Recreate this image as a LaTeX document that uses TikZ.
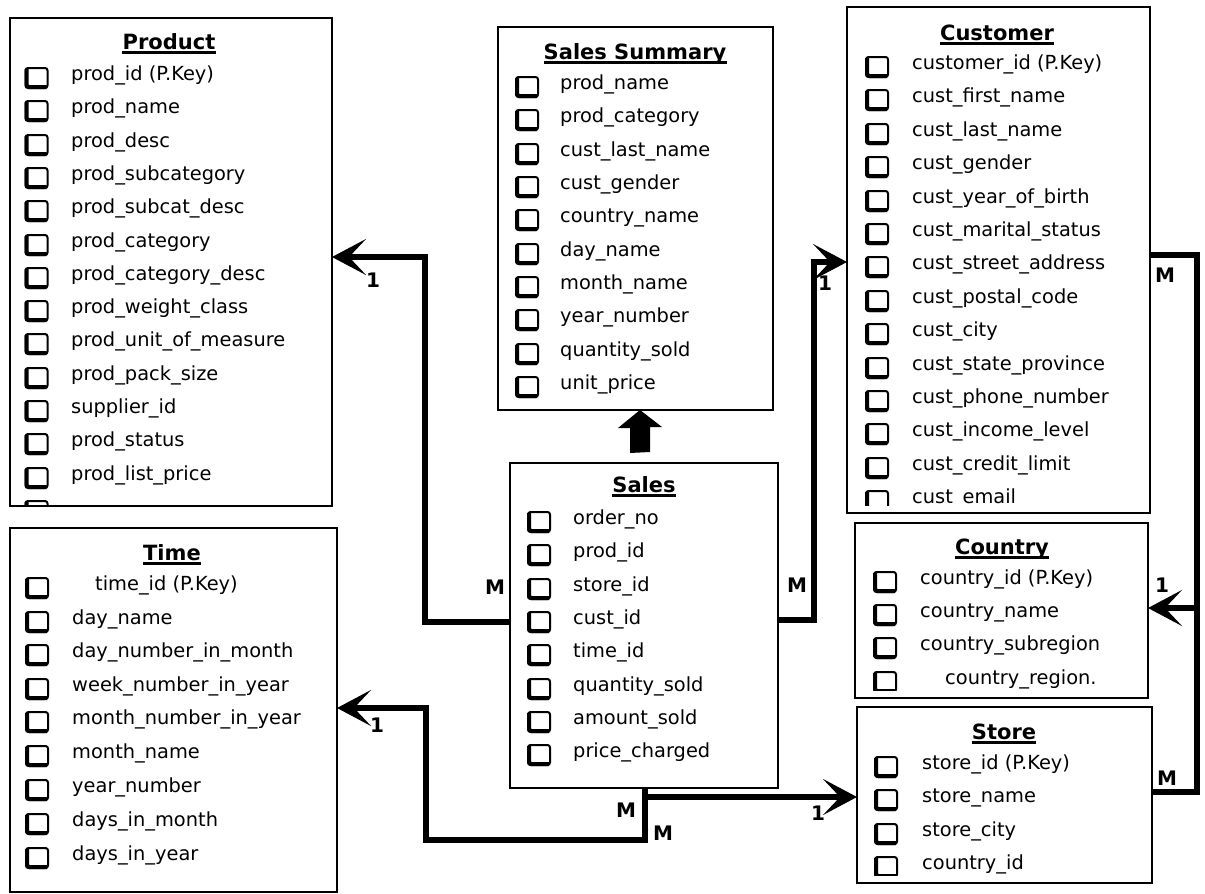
\documentclass[tikz,border=0pt]{standalone}
\usepackage{fontspec}
\setmainfont{DejaVu Sans}
\usetikzlibrary{arrows.meta}

\tikzset{
  tbl/.style={draw, line width=1.9pt, anchor=north west, inner sep=0pt, outer sep=0pt},
  ttl/.style={font=\fontsize{21}{24}\selectfont\bfseries, anchor=base, inner sep=0pt},
  fld/.style={font=\fontsize{19.4}{22}\selectfont, anchor=mid west, inner sep=0pt},
  rel/.style={line width=5.2pt, line join=miter, -{Stealth[length=34pt,width=36pt,inset=17pt]}},
  link/.style={line width=5.2pt, line join=miter},
  card/.style={font=\fontsize{20}{22}\selectfont\bfseries, inner sep=0pt},
  sqthin/.style={line width=2pt, rounded corners=2.5pt},
  sqthick/.style={line width=4pt, rounded corners=2.5pt},
}

% shadowed check square centred at (#1,#2)
\newcommand{\fieldsq}[2]{%
  \draw[sqthin] (#1-11,#2-10) rectangle (#1+11,#2+10);
  \draw[sqthick] (#1-10,#2-9) -- (#1-10,#2+9) -- (#1+10,#2+9);}

% field rows: #1 square centre x, #2 node prefix, #3 list of y/x/text
\newcommand{\tablefields}[3]{%
  \foreach \ry/\rx/\rt [count=\ri] in {#3} {
    \fieldsq{#1}{\ry}
    \node[fld] (#2-\ri) at (\rx,\ry) {\rt};
  }}

% underlined table heading
\newcommand{\tabletitle}[4]{%
  \node[ttl] (#1) at (#2,#3+7.5) {#4};
  \draw[line width=2.2pt] ([yshift=-3pt]#1.base west) -- ([yshift=-3pt]#1.base east);}

\begin{document}
\begin{tikzpicture}[x=1pt,y=-1pt]
\useasboundingbox (0,0) rectangle (1205,894);

% ---------- tables ----------
\node[tbl, minimum width=322pt, minimum height=488pt] (product) at (10,18) {};
\node[tbl, minimum width=327pt, minimum height=364pt] (timetbl) at (10,528) {};
\node[tbl, minimum width=275pt, minimum height=383pt] (summary) at (498,27) {};
\node[tbl, minimum width=268pt, minimum height=325pt] (sales) at (510,463) {};
\node[tbl, minimum width=303pt, minimum height=506pt] (customer) at (847,7) {};
\node[tbl, minimum width=293pt, minimum height=175pt] (country) at (855,523) {};
\node[tbl, minimum width=295pt, minimum height=176pt] (store) at (857,707) {};

% Product
\begin{scope}
\clip ([xshift=1pt,yshift=-1pt]product.north west) rectangle ([xshift=-1pt,yshift=2pt]product.south east);
\tablefields{36.5}{prodf}{78/71/prod\_id (P.Key), 111/71/prod\_name, 145/71/prod\_desc,
  178/71/prod\_subcategory, 211/71/prod\_subcat\_desc, 245/71/prod\_category,
  278/71/prod\_category\_desc, 311/71/prod\_weight\_class, 344/71/prod\_unit\_of\_measure,
  378/71/prod\_pack\_size, 411/71/supplier\_id, 444/71/prod\_status, 478/71/prod\_list\_price}
\fieldsq{36.5}{511}
\end{scope}
\tabletitle{prodt}{169}{42}{Product}

% Time
\begin{scope}
\clip ([xshift=1pt,yshift=-1pt]timetbl.north west) rectangle ([xshift=-1pt,yshift=2pt]timetbl.south east);
\tablefields{37}{timef}{588/95/time\_id (P.Key), 622/72/day\_name, 655/72/day\_number\_in\_month,
  689/72/week\_number\_in\_year, 722/72/month\_number\_in\_year, 756/72/month\_name,
  790/72/year\_number, 824/72/days\_in\_month, 858/72/days\_in\_year}
\end{scope}
\tabletitle{timet}{172}{553}{Time}

% Sales Summary
\tablefields{527}{sumf}{87/560/prod\_name, 120/560/prod\_category, 154/560/cust\_last\_name,
  187/560/cust\_gender, 220/560/country\_name, 254/560/day\_name, 287/560/month\_name,
  320/560/year\_number, 354/560/quantity\_sold, 387/560/unit\_price}
\tabletitle{sumt}{635}{52}{Sales Summary}

% Sales
\tablefields{539}{salesf}{522/573/order\_no, 555/573/prod\_id, 589/573/store\_id,
  622/573/cust\_id, 655/573/time\_id, 689/573/quantity\_sold, 722/573/amount\_sold,
  755/573/price\_charged}
\tabletitle{salest}{644}{485}{Sales}

% Customer
\begin{scope}
\clip ([xshift=1pt,yshift=-1pt]customer.north west) rectangle ([xshift=-1pt,yshift=8pt]customer.south east);
\tablefields{877}{custf}{67/912/customer\_id (P.Key), 100/912/cust\_first\_name,
  134/912/cust\_last\_name, 167/912/cust\_gender, 201/912/cust\_year\_of\_birth,
  234/912/cust\_marital\_status, 267/912/cust\_street\_address, 301/912/cust\_postal\_code,
  334/912/cust\_city, 368/912/cust\_state\_province, 401/912/cust\_phone\_number,
  434/912/cust\_income\_level, 468/912/cust\_credit\_limit, 501/912/cust\_email}
\end{scope}
\tabletitle{custt}{997}{33}{Customer}

% Country
\begin{scope}
\clip ([xshift=1pt,yshift=-1pt]country.north west) rectangle ([xshift=-1pt,yshift=8pt]country.south east);
\tablefields{885}{ctryf}{582/920/country\_id (P.Key), 615/920/country\_name,
  648/920/country\_subregion, 682/945/country\_region.}
\end{scope}
\tabletitle{ctryt}{1002}{547}{Country}

% Store
\begin{scope}
\clip ([xshift=1pt,yshift=-1pt]store.north west) rectangle ([xshift=-1pt,yshift=8pt]store.south east);
\tablefields{886}{storef}{767/922/store\_id (P.Key), 800/922/store\_name,
  834/922/store\_city, 867/922/country\_id}
\end{scope}
\tabletitle{storet}{1004}{732}{Store}

% ---------- relationships ----------
\draw[rel] (sales.west |- 0,622) -| (425,257) -- (product.east |- 0,257);
\draw[rel] (sales.east |- 0,620) -| (814,262) -- (customer.west |- 0,262);
\draw[rel] (sales.south -| 645,0) |- (426,840) |- (timetbl.east |- 0,708);
\coordinate (split) at (645,797);
\draw[rel] (split) -- (store.west |- split);
\draw[rel] (customer.east |- 0,255) -| (1197,608) -- (country.east |- 0,608);
\draw[link] (store.east |- 0,792) -| (1197,608);

% derived summary
\coordinate (upfoot) at (640,453);
\coordinate (uptip) at (summary.south -| 640,0);
\fill (upfoot) ++(-10,0) -- ++(0,-25) -- ++(-12,0) -- (uptip) -- ++(22,17) -- ++(-12,0) -- ++(0,25) -- cycle;

% cardinalities
\node[card] (mprod) at (495,587) {M};
\node[card] (oneprod) at (373,280) {1};
\node[card] (mcust) at (797,585) {M};
\node[card] (onecust) at (825,283) {1};
\node[card] (onetime) at (377,725) {1};
\node[card] (mtime) at (663,833) {M};
\node[card] (mstore) at (626,810) {M};
\node[card] (onestore) at (818,813) {1};
\node[card] (mcustc) at (1165,275) {M};
\node[card] (onectry) at (1162,585) {1};
\node[card] (mstorec) at (1167,778) {M};
\end{tikzpicture}
\end{document}
